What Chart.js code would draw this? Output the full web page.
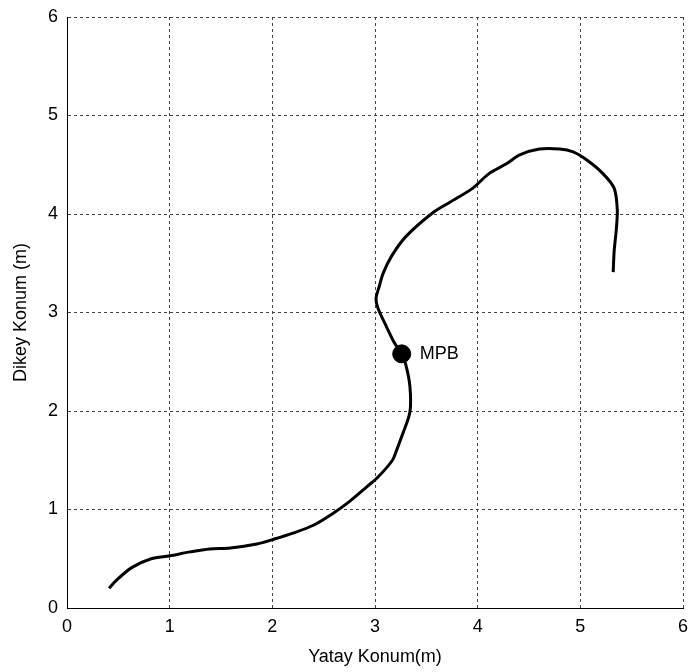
<!DOCTYPE html>
<html>
<head>
<meta charset="utf-8">
<script src="https://cdn.jsdelivr.net/npm/chart.js@4"></script>
<style>
  html, body { margin: 0; padding: 0; background: #fff; }
  #wrap { width: 693px; height: 672px; }
</style>
</head>
<body>
<div id="wrap"><canvas id="chart" width="693" height="672"></canvas></div>
<script>
// path (metres)
const pathX = [0.41, 0.48, 0.63, 0.82, 1.00, 1.20, 1.39, 1.59, 1.85, 2.02, 2.20, 2.40, 2.59, 2.75, 2.92, 3.03, 3.17, 3.21, 3.26, 3.34, 3.34, 3.30, 3.26, 3.19, 3.11, 3.03, 3.01, 3.04, 3.08, 3.16, 3.30, 3.56, 3.73, 3.95, 4.11, 4.28, 4.41, 4.60, 4.80, 4.93, 5.06, 5.22, 5.33, 5.36, 5.35, 5.33, 5.32];
const pathY = [0.20, 0.28, 0.41, 0.50, 0.53, 0.57, 0.60, 0.61, 0.65, 0.70, 0.76, 0.84, 0.96, 1.08, 1.23, 1.33, 1.50, 1.60, 1.74, 1.99, 2.25, 2.47, 2.58, 2.69, 2.86, 3.04, 3.14, 3.26, 3.40, 3.57, 3.77, 4.01, 4.12, 4.26, 4.41, 4.51, 4.60, 4.66, 4.66, 4.63, 4.55, 4.41, 4.26, 4.04, 3.84, 3.63, 3.41];

const mpbX = [3.26];
const mpbY = [2.58];
const mpbLabel = "MPB";

const xTicks = [0, 1, 2, 3, 4, 5, 6];
const yTicks = [0, 1, 2, 3, 4, 5, 6];

const xTitle = "Yatay Konum(m)";
const yTitle = "Dikey Konum (m)";

const font = "'Liberation Sans', Arial, sans-serif";

const pathData = pathX.map((x, i) => ({ x: x, y: pathY[i] }));
const mpbData = mpbX.map((x, i) => ({ x: x, y: mpbY[i] }));

const labelPlugin = {
    id: "mpbLabel",
    afterDatasetsDraw(chart) {
        const ctx = chart.ctx;
        const xs = chart.scales.x;
        const ys = chart.scales.y;
        ctx.save();
        ctx.font = "18px " + font;
        ctx.fillStyle = "#000";
        ctx.textBaseline = "middle";
        ctx.textAlign = "left";
        mpbData.forEach(p => {
            ctx.fillText(mpbLabel, xs.getPixelForValue(p.x) + 18, ys.getPixelForValue(p.y));
        });
        ctx.restore();
    }
};

const gridOpts = {
    color: "#444",
    lineWidth: 1,
    drawTicks: false
};

new Chart(document.getElementById("chart").getContext("2d"), {
    type: "scatter",
    data: {
        datasets: [
            {
                data: pathData,
                showLine: true,
                borderColor: "#000",
                borderWidth: 3,
                pointRadius: 0,
                tension: 0.3
            },
            {
                data: mpbData,
                pointRadius: 9,
                backgroundColor: "#000",
                borderColor: "#000"
            }
        ]
    },
    options: {
        responsive: false,
        animation: false,
        layout: { padding: { top: 17, right: 9, left: 0, bottom: 0 } },
        plugins: {
            legend: { display: false },
            tooltip: { enabled: false }
        },
        scales: {
            x: {
                type: "linear",
                min: 0,
                max: 6,
                afterBuildTicks: axis => { axis.ticks = xTicks.map(v => ({ value: v })); },
                afterFit: axis => { axis.height = 64; axis.paddingRight = 0; axis.paddingLeft = 0; },
                grid: gridOpts,
                border: { display: true, color: "#000", width: 1, dash: [3, 3] },
                ticks: { color: "#000", padding: 8, font: { family: font, size: 18 } },
                title: { display: true, text: xTitle, color: "#000", padding: { top: 1 }, font: { family: font, size: 18 } }
            },
            y: {
                type: "linear",
                min: 0,
                max: 6,
                afterBuildTicks: axis => { axis.ticks = yTicks.map(v => ({ value: v })); },
                afterFit: axis => { axis.width = 67; axis.paddingTop = 0; axis.paddingBottom = 0; },
                grid: gridOpts,
                border: { display: true, color: "#000", width: 1, dash: [3, 3] },
                ticks: { color: "#000", padding: 9, font: { family: font, size: 18 } },
                title: { display: true, text: yTitle, color: "#000", padding: { top: 10, bottom: 4 }, font: { family: font, size: 18 } }
            }
        }
    },
    plugins: [labelPlugin, {
        // grid lines dashed, axis lines at 0 solid
        id: "solidAxes",
        beforeDatasetsDraw(chart) {
            const a = chart.chartArea;
            const ctx = chart.ctx;
            ctx.save();
            ctx.strokeStyle = "#000";
            ctx.lineWidth = 1;
            ctx.beginPath();
            ctx.moveTo(a.left + 0.5, a.top);
            ctx.lineTo(a.left + 0.5, a.bottom + 0.5);
            ctx.lineTo(a.right, a.bottom + 0.5);
            ctx.stroke();
            ctx.restore();
        }
    }]
});
</script>
</body>
</html>
